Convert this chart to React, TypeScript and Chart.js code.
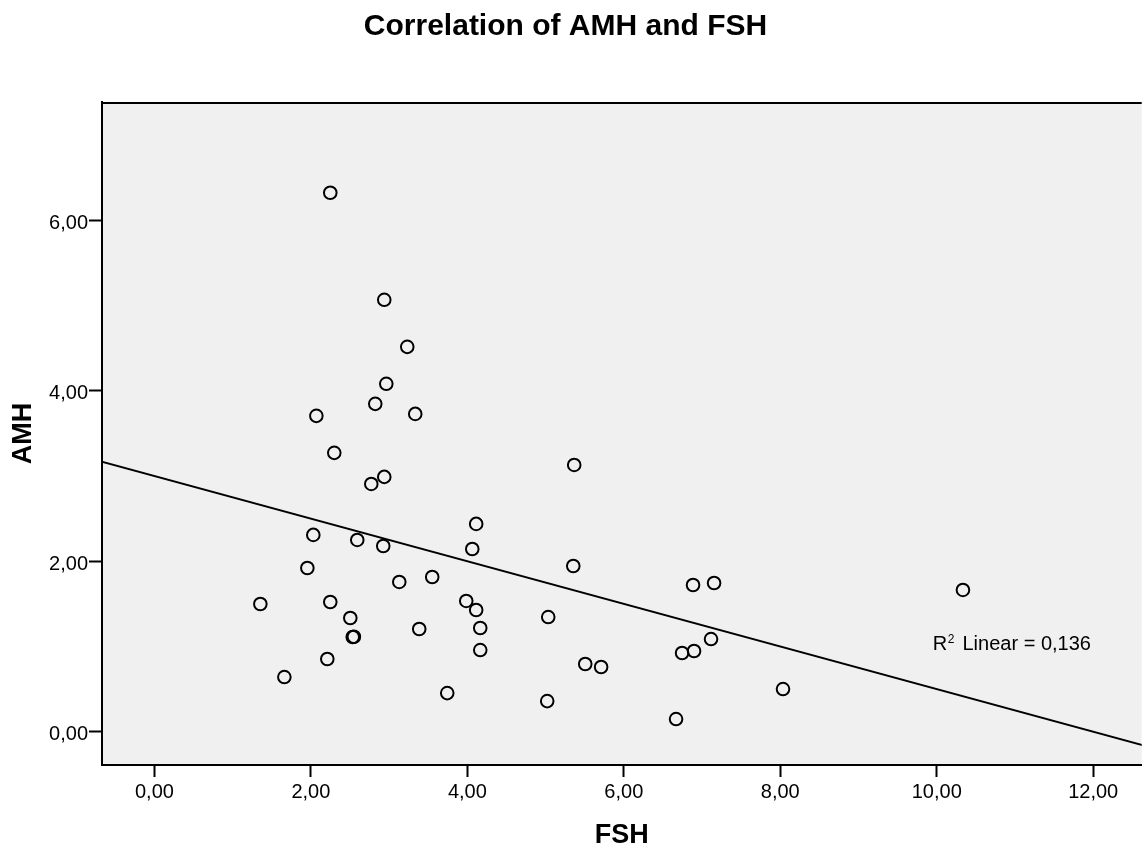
import React, { useEffect, useRef } from "react";
import { Chart, registerables } from "chart.js";

Chart.register(...registerables);

const TITLE = "Correlation of AMH and FSH";
const X_TITLE = "FSH";
const Y_TITLE = "AMH";

const FSH = [
  1.354, 1.661, 1.955, 2.031, 2.07, 2.21, 2.248, 2.248, 2.299, 2.504,
  2.535, 2.55, 2.593, 2.772, 2.823, 2.925, 2.938, 2.938, 2.964, 3.13,
  3.232, 3.334, 3.385, 3.551, 3.743, 3.986, 4.063, 4.113, 4.113, 4.165,
  4.165, 5.021, 5.034, 5.354, 5.366, 5.507, 5.71, 6.668, 6.745, 6.885,
  6.898, 7.115, 7.154, 8.035, 10.335,
];
const AMH = [
  1.499, 0.642, 1.922, 2.31, 3.707, 0.854, 1.523, 6.325, 3.273, 1.335,
  1.112, 1.115, 2.251, 2.908, 3.848, 2.18, 5.069, 2.991, 4.083, 1.758,
  4.517, 3.73, 1.206, 1.816, 0.454, 1.535, 2.145, 2.439, 1.429, 1.218,
  0.959, 0.36, 1.346, 1.945, 3.131, 0.795, 0.76, 0.149, 0.924, 1.722,
  0.948, 1.088, 1.746, 0.501, 1.664,
];

const FIT_INTERCEPT = 3.0;
const FIT_SLOPE = -0.25;
const FIT_X_ENDS = [-0.8, 12.8];
const R2_LABEL = "Linear = 0,136";
const R2_LABEL_X = 9.95;
const R2_LABEL_Y = 1.02;

const X_MIN = -0.67;
const X_MAX = 12.62;
const Y_MIN = -0.39;
const Y_MAX = 7.39;
const TICK_STEP = 2;

const FAMILY = "'Liberation Sans', Arial, Helvetica, sans-serif";

const fmt = (v: number | string) => Number(v).toFixed(2).replace(".", ",");

const decorPlugin = {
  id: "decor",
  beforeDraw(chart: any) {
    const { ctx, chartArea } = chart;
    const { left, top, right, bottom } = chartArea;
    ctx.save();
    ctx.fillStyle = "#f0f0f0";
    ctx.fillRect(left, top, right - left, bottom - top);
    ctx.restore();
  },
  afterDraw(chart: any) {
    const { ctx, chartArea } = chart;
    const { left, top, right } = chartArea;
    ctx.save();
    // top frame line
    ctx.strokeStyle = "#000";
    ctx.lineWidth = 2;
    ctx.beginPath();
    ctx.moveTo(left, top + 1);
    ctx.lineTo(right, top + 1);
    ctx.stroke();

    // title
    ctx.fillStyle = "#000";
    ctx.font = `bold 30px ${FAMILY}`;
    ctx.textAlign = "center";
    ctx.textBaseline = "middle";
    ctx.fillText(TITLE, 565.5, 27);

    // R² label
    const px = chart.scales.x.getPixelForValue(R2_LABEL_X);
    const py = chart.scales.y.getPixelForValue(R2_LABEL_Y);
    ctx.textAlign = "left";
    ctx.font = `20px ${FAMILY}`;
    ctx.fillText("R", px, py);
    const wR = ctx.measureText("R").width;
    ctx.font = `12px ${FAMILY}`;
    ctx.fillText("2", px + wR + 0.5, py - 5);
    const w2 = ctx.measureText("2").width;
    ctx.font = `20px ${FAMILY}`;
    ctx.fillText(" " + R2_LABEL, px + wR + w2 + 3, py);
    ctx.restore();
  },
};

export default function App() {
  const ref = useRef<HTMLCanvasElement>(null);

  useEffect(() => {
    document.body.style.margin = "0";
    document.body.style.overflow = "hidden";
    const points = FSH.map((x, i) => ({ x, y: AMH[i] }));
    const fit = FIT_X_ENDS.map((x) => ({ x, y: FIT_INTERCEPT + FIT_SLOPE * x }));

    const chart = new Chart(ref.current as HTMLCanvasElement, {
      type: "scatter",
      data: {
        datasets: [
          {
            label: "AMH",
            data: points,
            pointStyle: "circle",
            pointRadius: 6.3,
            pointBorderWidth: 2,
            pointBorderColor: "#000",
            pointBackgroundColor: "rgba(0,0,0,0)",
            showLine: false,
          },
          {
            label: "Fit",
            data: fit,
            showLine: true,
            borderColor: "#000",
            borderWidth: 2,
            pointRadius: 0,
            fill: false,
          },
        ],
      },
      options: {
        responsive: false,
        animation: false,
        layout: { padding: { top: 102, left: 0, right: 0, bottom: 0 } },
        plugins: {
          legend: { display: false },
          tooltip: { enabled: false },
          title: { display: false },
        },
        scales: {
          x: {
            type: "linear",
            min: X_MIN,
            max: X_MAX,
            afterFit: (s: any) => {
              s.height = 88;
            },
            ticks: {
              stepSize: TICK_STEP,
              includeBounds: false,
              padding: 3,
              color: "#000",
              font: { family: FAMILY, size: 20 },
              callback: (v: any) => fmt(v),
            },
            grid: {
              drawOnChartArea: false,
              drawTicks: true,
              tickLength: 12,
              tickWidth: 2,
              tickColor: "#000",
            },
            border: { display: true, color: "#000", width: 2 },
            title: {
              display: true,
              text: X_TITLE,
              color: "#000",
              font: { family: FAMILY, size: 27, weight: "bold" },
              padding: { top: 0, bottom: 1 },
            },
          },
          y: {
            type: "linear",
            min: Y_MIN,
            max: Y_MAX,
            afterFit: (s: any) => {
              s.width = 102;
            },
            ticks: {
              stepSize: TICK_STEP,
              includeBounds: false,
              padding: 1,
              labelOffset: 3,
              color: "#000",
              font: { family: FAMILY, size: 20 },
              callback: (v: any) => fmt(v),
            },
            grid: {
              drawOnChartArea: false,
              drawTicks: true,
              tickLength: 13,
              tickWidth: 2,
              tickColor: "#000",
            },
            border: { display: true, color: "#000", width: 2 },
            title: {
              display: true,
              text: Y_TITLE,
              color: "#000",
              font: { family: FAMILY, size: 27, weight: "bold" },
              padding: { top: 7, bottom: 0 },
            },
          },
        },
      },
      plugins: [decorPlugin],
    } as any);

    return () => chart.destroy();
  }, []);

  return (
    <div style={{ width: 1142, height: 853, position: "relative", overflow: "hidden" }}>
      <canvas ref={ref} width={1150} height={853} style={{ display: "block" }} />
    </div>
  );
}
